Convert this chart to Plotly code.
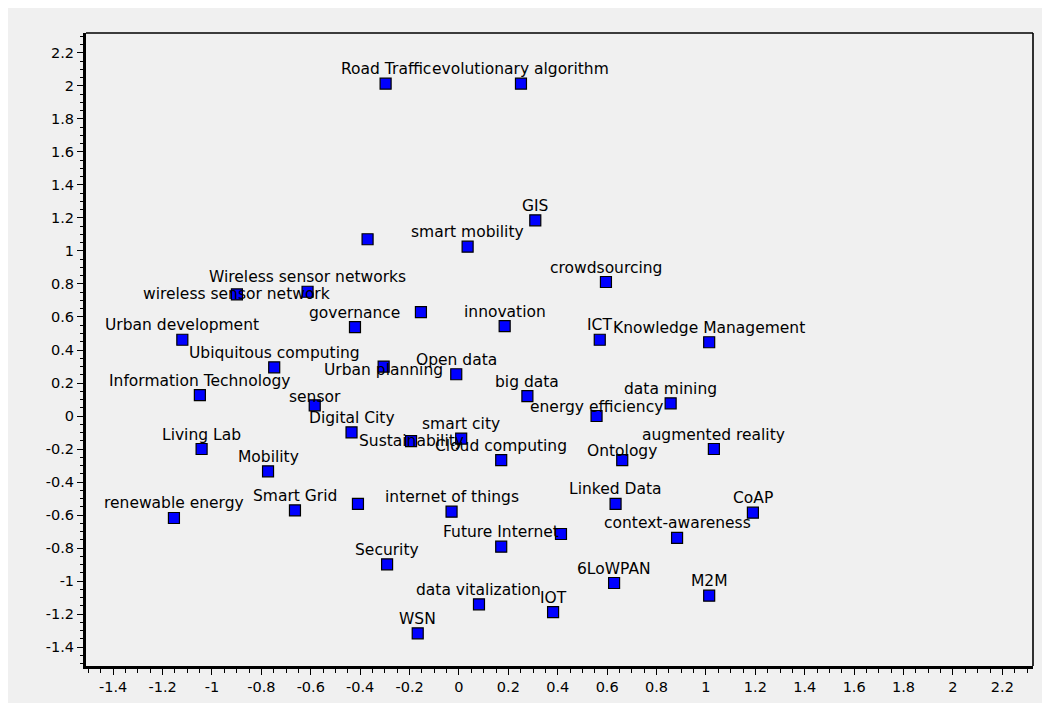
import plotly.graph_objects as go

# ---------------- data ----------------
labels = [
    "Road Traffic", "evolutionary algorithm", "GIS", "", "smart mobility",
    "crowdsourcing", "", "governance", "innovation", "ICT",
    "Knowledge Management", "Urban planning", "Open data", "big data", "data mining",
    "energy efficiency", "Digital City", "Sustainability", "smart city", "Cloud computing",
    "Ontology", "augmented reality", "", "internet of things", "Linked Data",
    "Future Internet", "", "context-awareness", "CoAP", "Security",
    "6LoWPAN", "M2M", "data vitalization", "IOT", "WSN",
    "Wireless sensor networks", "wireless sensor network", "Urban development",
    "Ubiquitous computing", "Information Technology", "sensor", "Living Lab",
    "Mobility", "Smart Grid", "renewable energy",
]
x_vals = [
    -0.297, 0.251, 0.309, -0.370, 0.035,
    0.595, -0.154, -0.421, 0.185, 0.570,
    1.013, -0.305, -0.011, 0.277, 0.857,
    0.557, -0.435, -0.194, 0.009, 0.171,
    0.661, 1.032, -0.409, -0.030, 0.634,
    0.171, 0.413, 0.883, 1.190, -0.291,
    0.628, 1.013, 0.081, 0.381, -0.167,
    -0.613, -0.899, -1.120,
    -0.748, -1.049, -0.584, -1.042,
    -0.773, -0.664, -1.154,
]
y_vals = [
    2.014, 2.014, 1.186, 1.071, 1.026,
    0.812, 0.630, 0.539, 0.545, 0.462,
    0.447, 0.299, 0.253, 0.121, 0.077,
    0.000, -0.099, -0.152, -0.137, -0.267,
    -0.267, -0.200, -0.533, -0.580, -0.533,
    -0.792, -0.715, -0.739, -0.586, -0.899,
    -1.012, -1.089, -1.141, -1.188, -1.317,
    0.753, 0.737, 0.462,
    0.295, 0.127, 0.065, -0.200,
    -0.335, -0.572, -0.618,
]
tick_vals = [-1.4, -1.2, -1.0, -0.8, -0.6, -0.4, -0.2, 0.0, 0.2, 0.4, 0.6, 0.8,
             1.0, 1.2, 1.4, 1.6, 1.8, 2.0, 2.2]
tick_text = ["-1.4", "-1.2", "-1", "-0.8", "-0.6", "-0.4", "-0.2", "0", "0.2", "0.4",
             "0.6", "0.8", "1", "1.2", "1.4", "1.6", "1.8", "2", "2.2"]
x_range = [-1.51, 2.324]
y_range = [-1.515, 2.321]

# ---------------- style ----------------
# The page body has an 8px default margin, so the figure is laid out
# in coordinates shifted by 8px from the window.
OFF = 8
W, H = 1050 - OFF, 706 - OFF
PL, PR, PT, PB = 86 - OFF, 1033 - OFF, 33 - OFF, 666 - OFF   # plot-area box
GREY_BOTTOM = 703 - OFF
BG = "#f0f0f0"
FONT = "DejaVu Sans"
LABEL_SIZE = 15.5
TICK_SIZE = 14.5
DEFAULT_YSHIFT = 14.5
label_yshift = {"wireless sensor network": 0, "Sustainability": 0,
                "Urban planning": -3.5, "energy efficiency": 9,
                "Ontology": 9, "sensor": 8}

fig = go.Figure()
fig.add_trace(go.Scatter(
    x=x_vals, y=y_vals, mode="markers",
    marker=dict(symbol="square", size=11, color="#0000ff",
                line=dict(color="black", width=1.2)),
    hoverinfo="skip", showlegend=False,
))

for lab, xv, yv in zip(labels, x_vals, y_vals):
    if not lab:
        continue
    fig.add_annotation(
        x=xv, y=yv, text=lab, showarrow=False,
        xanchor="center", yanchor="middle",
        yshift=label_yshift.get(lab, DEFAULT_YSHIFT),
        font=dict(family=FONT, size=LABEL_SIZE, color="black"),
    )

pw, ph = PR - PL, PB - PT
def px_x(p):
    return (p - PL) / pw
def px_y(p):
    return (PB - p) / ph

# grey page area (white strip at bottom)
fig.add_shape(type="rect", xref="paper", yref="paper", layer="below",
              x0=px_x(-2), x1=px_x(W + 2), y0=px_y(GREY_BOTTOM), y1=px_y(-2),
              fillcolor=BG, line=dict(width=0))
# thin top / right frame
fig.add_shape(type="line", xref="paper", yref="paper", x0=0, x1=1, y0=1, y1=1,
              line=dict(color="black", width=1.6))
fig.add_shape(type="line", xref="paper", yref="paper", x0=1, x1=1, y0=0, y1=1,
              line=dict(color="black", width=1.6))

axis_common = dict(
    tickmode="array", tickvals=tick_vals, ticktext=tick_text,
    showgrid=False, zeroline=False,
    showline=True, linecolor="black", linewidth=3,
    ticks="outside", ticklen=6, tickwidth=1, tickcolor="black",
    tickfont=dict(family=FONT, size=TICK_SIZE, color="black"),
    minor=dict(tickmode="linear", tick0=0, dtick=0.05, ticks="outside",
               ticklen=3.5, tickwidth=1, tickcolor="black", showgrid=False),
)
fig.update_xaxes(range=x_range, **axis_common)
fig.update_yaxes(range=y_range, **axis_common)

fig.update_layout(
    width=W, height=H, autosize=False,
    margin=dict(l=PL, r=W - PR, t=PT, b=H - PB, pad=0),
    paper_bgcolor="white", plot_bgcolor=BG,
    showlegend=False,
)

fig.write_html("out.html")
